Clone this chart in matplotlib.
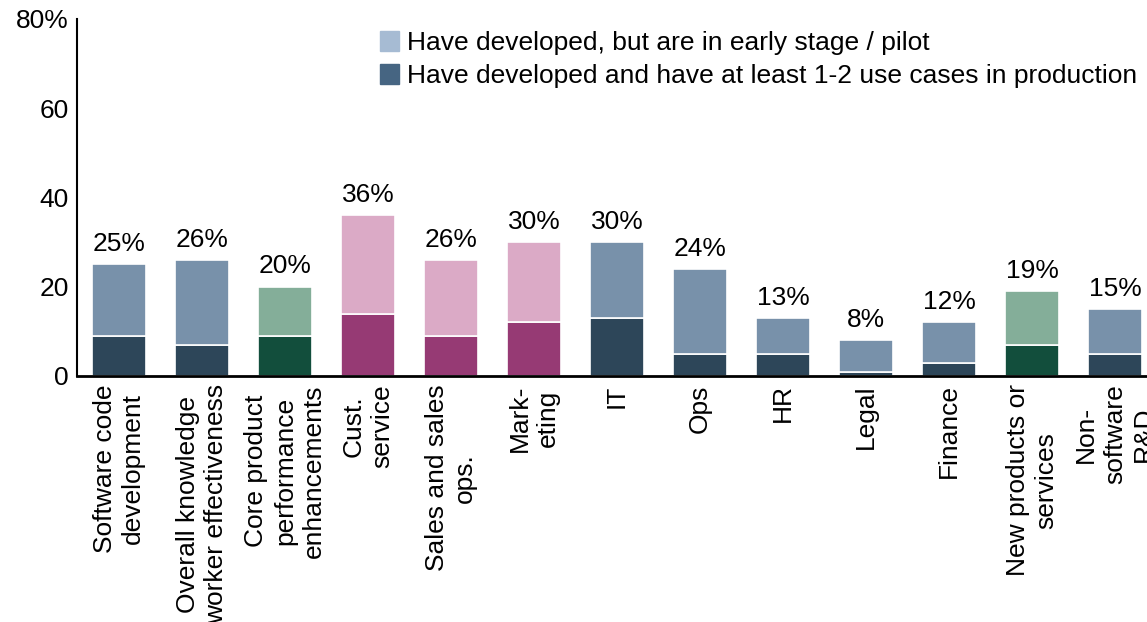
import numpy as np
import matplotlib.pyplot as plt
from matplotlib.patches import Patch

plt.rcParams['font.family'] = ['Liberation Sans', 'DejaVu Sans']

categories = ['Software code\ndevelopment', 'Overall knowledge\nworker effectiveness',
              'Core product\nperformance\nenhancements', 'Cust.\nservice',
              'Sales and sales\nops.', 'Mark-\neting', 'IT', 'Ops', 'HR', 'Legal',
              'Finance', 'New products or\nservices', 'Non-\nsoftware\nR&D']
production = [9, 7, 9, 14, 9, 12, 13, 5, 5, 1, 3, 7, 5]
total = [25, 26, 20, 36, 26, 30, 30, 24, 13, 8, 12, 19, 15]
pilot = [t - p for t, p in zip(total, production)]

# colour group per bar: blue, green (product), pink (commercial)
group = ['blue', 'blue', 'green', 'pink', 'pink', 'pink', 'blue',
         'blue', 'blue', 'blue', 'blue', 'green', 'blue']
dark = {'blue': '#2d4659', 'green': '#124e3c', 'pink': '#963a74'}
light = {'blue': '#7891aa', 'green': '#84ae99', 'pink': '#dbaac6'}

fs = 19

fig = plt.figure(figsize=(11.47, 6.22), dpi=100)
ax = fig.add_axes([0.0671, 0.3955, 0.9329, 0.574])

x = np.arange(len(categories))
ax.bar(x, production, width=0.65, color=[dark[g] for g in group],
       edgecolor='white', linewidth=1.2)
ax.bar(x, pilot, width=0.65, bottom=production, color=[light[g] for g in group],
       edgecolor='white', linewidth=1.2)

for xi, t in zip(x, total):
    ax.annotate(f'{t}%', (xi, t), xytext=(0, 6), textcoords='offset points',
                ha='center', va='bottom', fontsize=fs)

ax.set_xlim(-0.506, 12.386)
ax.set_ylim(0, 80)
ax.set_yticks([0, 20, 40, 60, 80])
ax.set_yticklabels(['0', '20', '40', '60', '80%'], fontsize=fs)
ax.tick_params(axis='y', length=0, pad=6)
ax.tick_params(axis='x', length=0, pad=6)
ax.set_xticks(x)
ax.set_xticklabels(categories, rotation=90, fontsize=fs, ha='center', va='top',
                   multialignment='center', linespacing=1.25)

ax.spines['top'].set_visible(False)
ax.spines['right'].set_visible(False)
ax.spines['left'].set_linewidth(1.5)
ax.spines['bottom'].set_linewidth(2)

handles = [Patch(color='#a6bbd3', label='Have developed, but are in early stage / pilot'),
           Patch(color='#466582', label='Have developed and have at least 1-2 use cases in production')]
fig.legend(handles=handles, loc='upper left', bbox_to_anchor=(0.331, 0.950),
           frameon=False, fontsize=fs, handlelength=0.75, handleheight=0.75,
           handletextpad=0.3, labelspacing=0.35, borderaxespad=0, borderpad=0)

fig.savefig('out.png', dpi=100)
